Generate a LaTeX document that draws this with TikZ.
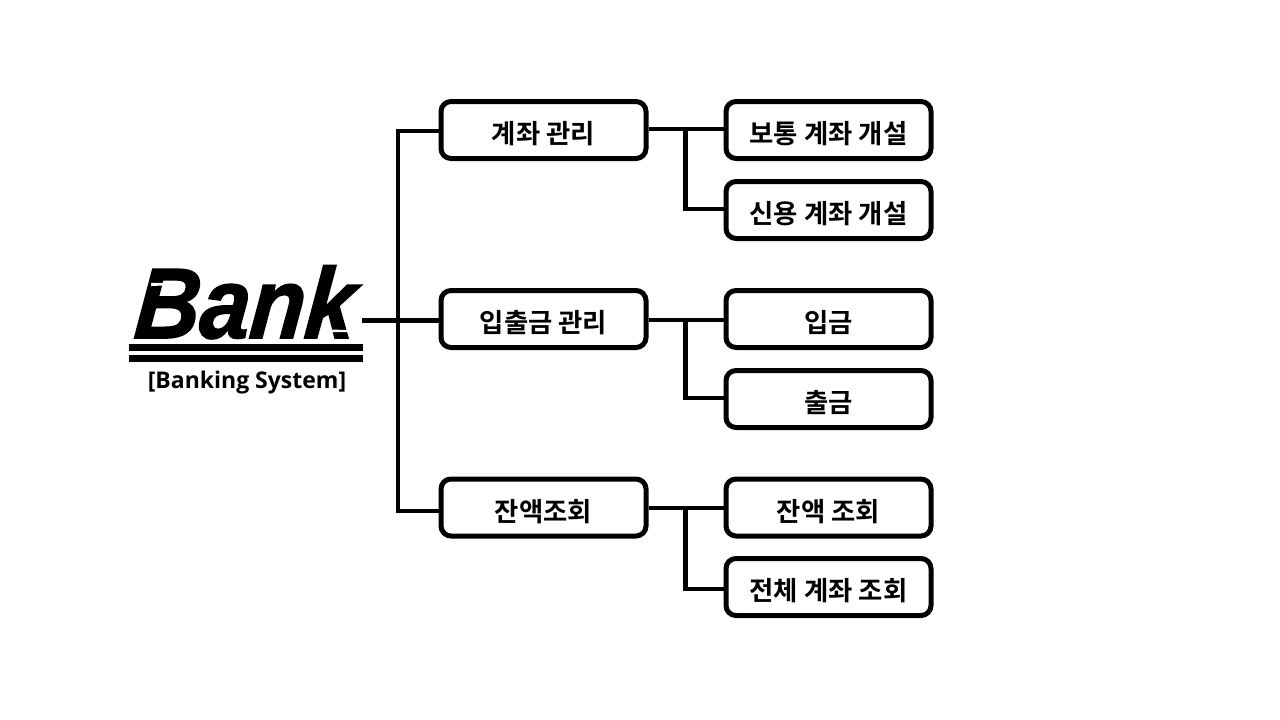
\documentclass[tikz,border=0pt]{standalone}
\usepackage{fontspec}
\setmainfont{Liberation Sans}
\newfontfamily\krfont{Noto Sans CJK KR}[BoldFont={* Bold}]
\newfontfamily\capfont{Open Sans}[BoldFont={* Bold}]
\newfontfamily\logofont{Liberation Sans Bold Italic}[FakeBold=1.6,FakeSlant=0.1]
\newcommand{\lab}[1]{\raisebox{-13.5pt}[0pt][0pt]{#1}}
\tikzset{
  x=1pt,y=-1pt,
  box/.style={draw=black,line width=5pt,rounded corners=10pt,fill=white,minimum width=205pt,minimum height=57pt,inner sep=0pt,text=black,font=\krfont\bfseries\fontsize{26.4}{30}\selectfont},
  conn/.style={draw=black,line width=4.6pt},
  logo/.style={inner sep=0pt,font=\logofont\fontsize{100}{100}\selectfont},
  bar/.style={fill=black,draw=none},
  caption/.style={inner sep=0pt,font=\capfont\bfseries\fontsize{23}{27}\selectfont},
}
\begin{document}
\begin{tikzpicture}
\useasboundingbox (0,0) rectangle (1280,720);
\fill[white] (0,0) rectangle (1280,720);
% root
\node[logo,anchor=base,xscale=0.9] (bank) at (243,338) {Bank};
\fill[white] (151,283) -- (176,282.5) -- (175,285) -- (151,286) -- cycle;
\fill[white] (330,329.5) -- (347,330) -- (348,332) -- (330,332) -- cycle;
\path[bar] (128.5,344) rectangle (363,351);
\path[bar] (128.5,355) rectangle (363,362);
\node[caption] (cap) at (247,383) {[Banking System]};
\coordinate (rootout) at (362,320.5);
% level 1
\node[box] (a) at (543.5,130) {\lab{계좌 관리}};
\node[box] (b) at (543.5,319) {\lab{입출금 관리}};
\node[box] (c) at (543.5,507.5) {\lab{잔액조회}};
% level 2
\node[box] (a1) at (828.5,130) {\lab{보통 계좌 개설}};
\node[box] (a2) at (828.5,210) {\lab{신용 계좌 개설}};
\node[box] (b1) at (828.5,319) {\lab{입금}};
\node[box] (b2) at (828.5,399) {\lab{출금}};
\node[box] (c1) at (828.5,507.5) {\lab{잔액 조회}};
\node[box] (c2) at (828.5,587) {\lab{전체 계좌 조회}};
% trunk
\coordinate (t) at (398,131);
\coordinate (m) at (398,320.5);
\coordinate (u) at (398,511);
\draw[conn] (rootout) -- (m);
\draw[conn,line cap=round] (a.west |- t) -- (t) -- (u) -- (c.west |- u);
\draw[conn] (m) -- (b.west |- m);
% branches
\foreach \p/\q/\r/\ya/\yb in {a/a1/a2/129/209, b/b1/b2/320/398, c/c1/c2/508/589}{
  \coordinate (s) at (685.5,\ya);
  \coordinate (e) at (685.5,\yb);
  \draw[conn] (\p.east |- s) -- (\q.west |- s);
  \draw[conn] (s) -- (e) -- (\r.west |- e);
}
\end{tikzpicture}
\end{document}
